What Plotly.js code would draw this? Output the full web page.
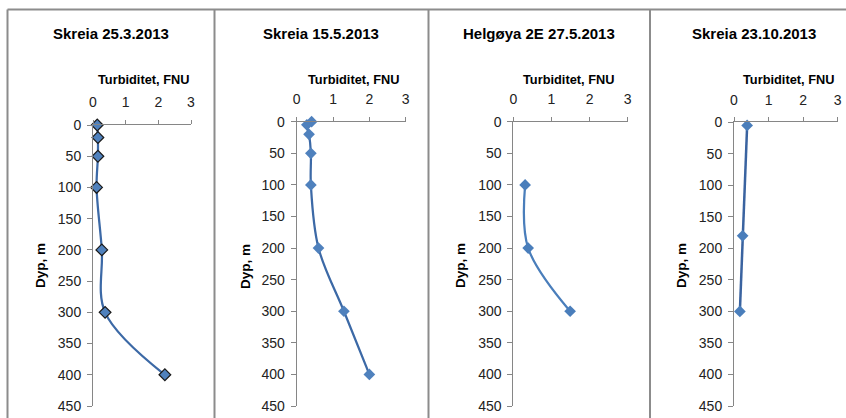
<!DOCTYPE html>
<html>
<head>
<meta charset="utf-8">
<script src="https://cdn.plot.ly/plotly-3.0.1.min.js"></script>
<style>html,body{margin:0;padding:0;background:#fff;}#chart{width:846px;height:418px;}</style>
</head>
<body>
<div id="chart"></div>
<script>
// Data
const panelTitles = ["Skreia 25.3.2013", "Skreia 15.5.2013", "Helgøya 2E 27.5.2013", "Skreia 23.10.2013"];
const xAxisTitle = "Turbiditet, FNU";
const yAxisTitle = "Dyp, m";
const xTicks = [0, 1, 2, 3];
const yTicks = [0, 50, 100, 150, 200, 250, 300, 350, 400, 450];

const depth1 = [0, 20, 50, 100, 200, 300, 400];
const turb1  = [0.13, 0.15, 0.15, 0.11, 0.27, 0.37, 2.2];
const depth2 = [0, 5, 20, 50, 100, 200, 300, 400];
const turb2  = [0.41, 0.28, 0.34, 0.39, 0.39, 0.6, 1.3, 2.0];
const depth3 = [100, 200, 300];
const turb3  = [0.31, 0.39, 1.49];
const depth4 = [5, 180, 300];
const turb4  = [0.38, 0.25, 0.17];

const W = 846, H = 418;
const px = v => v / W;
const py = v => 1 - v / H;

// panel geometry in pixels: [xLeft, xRight, yTop, yBottom]
const geo = [
  [93, 191, 125, 406],
  [296.7, 405.7, 121.7, 406],
  [513.3, 627.7, 121.7, 406],
  [734, 837.7, 122.3, 406]
];
const titleX = [111, 320.5, 538.5, 754];
const xTitleX = [143.5, 353.5, 568.5, 788.5];
const yTitleX = [40, 245, 460, 681];

const traces = [
  {x: turb1, y: depth1, line: {color: '#3C69A6', width: 2.25, shape: 'spline', smoothing: 1},
   marker: {symbol: 'diamond', size: 9, color: '#4F81BD', line: {color: '#1A1A1A', width: 1.2}}},
  {x: turb2, y: depth2, line: {color: '#3C69A6', width: 2.25, shape: 'spline', smoothing: 1},
   marker: {symbol: 'diamond', size: 9, color: '#4F81BD', line: {width: 0}}},
  {x: turb3, y: depth3, line: {color: '#4A7EBB', width: 2.25, shape: 'spline', smoothing: 1},
   marker: {symbol: 'diamond', size: 9, color: '#4A7EBB', line: {width: 0}}},
  {x: turb4, y: depth4, line: {color: '#3A63A0', width: 2.5, shape: 'linear'},
   marker: {symbol: 'diamond', size: 9, color: '#4A7EBB', line: {width: 0}}}
].map((t, i) => Object.assign(t, {
  type: 'scatter', mode: 'lines+markers', cliponaxis: false,
  xaxis: 'x' + (i === 0 ? '' : i + 1), yaxis: 'y' + (i === 0 ? '' : i + 1), showlegend: false, hoverinfo: 'skip'
}));

const font = {family: 'Liberation Sans, Arial, sans-serif', color: '#000'};
const layout = {
  width: W, height: H, margin: {l: 0, r: 0, t: 0, b: 0},
  paper_bgcolor: '#fff', plot_bgcolor: 'rgba(0,0,0,0)', showlegend: false,
  font: font, annotations: [], shapes: []
};

geo.forEach((g, i) => {
  const s = i === 0 ? '' : String(i + 1);
  layout['xaxis' + s] = {
    domain: [px(g[0]), px(g[1])], range: [0, 3], side: 'top', anchor: 'y' + s,
    tickvals: xTicks, ticktext: xTicks.map(String), ticks: 'outside', ticklen: 4, tickcolor: '#868686',
    showline: true, linecolor: '#868686', linewidth: 1, showgrid: false, zeroline: false,
    tickfont: {size: 14, color: '#222', family: font.family}, fixedrange: true, ticklabelstandoff: 7
  };
  layout['yaxis' + s] = {
    domain: [py(g[3]), py(g[2])], range: [450, 0], anchor: 'x' + s,
    tickvals: yTicks, ticktext: yTicks.map(String), ticks: 'outside', ticklen: 5, tickcolor: '#868686',
    showline: true, linecolor: '#868686', linewidth: 1, showgrid: false, zeroline: false,
    tickfont: {size: 14, color: '#222', family: font.family}, fixedrange: true, ticklabelstandoff: 3
  };
  layout.annotations.push({
    text: '<b>' + panelTitles[i] + '</b>', xref: 'paper', yref: 'paper', x: px(titleX[i]), y: py(34),
    xanchor: 'center', yanchor: 'middle', showarrow: false, font: {size: 15, family: font.family, color: '#000'}
  });
  layout.annotations.push({
    text: '<b>' + xAxisTitle + '</b>', xref: 'paper', yref: 'paper', x: px(xTitleX[i]), y: py(79),
    xanchor: 'center', yanchor: 'middle', showarrow: false, font: {size: 12.8, family: font.family, color: '#000'}
  });
  layout.annotations.push({
    text: '<b>' + yAxisTitle + '</b>', xref: 'paper', yref: 'paper', x: px(yTitleX[i]), y: py(266),
    xanchor: 'center', yanchor: 'middle', showarrow: false, textangle: -90, font: {size: 13.5, family: font.family, color: '#000'}
  });
});

// Panel frames
const frameColor = '#8C8C8C';
const border = (x0, y0, x1, y1) => ({type: 'line', xref: 'paper', yref: 'paper',
  x0: px(x0), y0: py(y0), x1: px(x1), y1: py(y1), line: {color: frameColor, width: 2}});
layout.shapes.push(border(7.5, 9.5, 846, 9.5));
layout.shapes.push(border(7.5, 9.5, 7.5, 418));
layout.shapes.push(border(214.5, 9.5, 214.5, 418));
layout.shapes.push(border(428.5, 9.5, 428.5, 418));
layout.shapes.push(border(650, 9.5, 650, 418));

Plotly.newPlot('chart', traces, layout, {staticPlot: true, displayModeBar: false});
</script>
</body>
</html>
